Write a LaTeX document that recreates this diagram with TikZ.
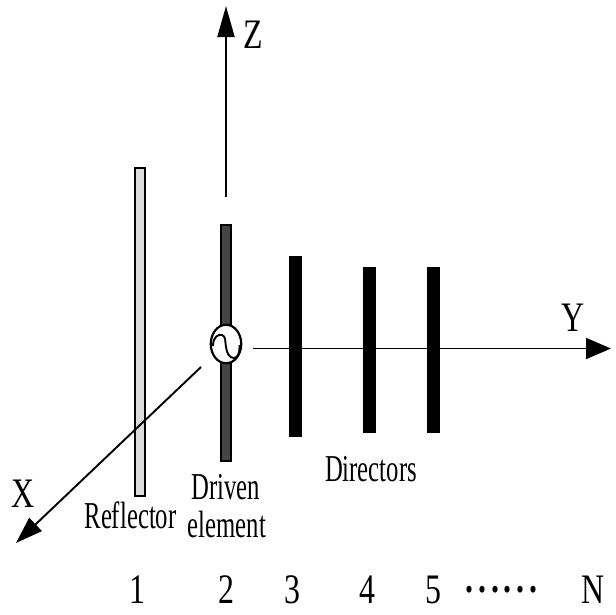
\documentclass[tikz,border=0pt]{standalone}
\usepackage{fontspec}
\setmainfont{Liberation Serif}
\newfontfamily\axisfont[FakeStretch=0.76]{Liberation Serif}
\newfontfamily\labelfont[FakeStretch=0.65]{Liberation Serif}
\usetikzlibrary{arrows.meta,shapes.geometric}
\tikzset{
  axisline/.style={line width=1.9pt,-{Triangle[length=#1]}},
  elementbar/.style={draw=#1,fill=#1,line width=1.5pt,inner sep=0pt,outer sep=0pt,minimum width=11.5pt},
  axislab/.style={font=\axisfont\fontsize{42}{42}\selectfont,inner sep=0pt,anchor=base},
  namelab/.style={font=\labelfont\fontsize{38}{38}\selectfont,inner sep=0pt,anchor=base},
}
\begin{document}
\begin{tikzpicture}[x=1pt,y=-1pt]
\useasboundingbox (0,0) rectangle (616,614);
% Y axis behind the bars
\coordinate (ystart) at (253,348.5);
\coordinate (ytip) at (611,348.5);
\coordinate (zstart) at (226,197);
\coordinate (ztip) at (226,6);
\coordinate (xstart) at (201,367);
\coordinate (xtip) at (16,543);
\draw[axisline={25pt,width=21pt}] (ystart) -- (ytip);
\draw[axisline={31pt,width=17pt}] (zstart) -- (ztip);
% elements
\node[draw=black,fill=black!14,line width=1.7pt,inner sep=0pt,outer sep=0pt,minimum width=10.5pt,minimum height=328.5pt] (reflector) at (140,332) {};
\node[draw=black,fill=black!73,line width=1.7pt,inner sep=0pt,outer sep=0pt,minimum width=10.5pt,minimum height=236.5pt] (driven) at (226,343) {};
\node[elementbar=black,minimum height=180pt] (dirthree) at (295.5,346.5) {};
\node[elementbar=black,minimum height=165pt] (dirfour) at (369.5,350) {};
\node[elementbar=black,minimum height=165pt] (dirfive) at (433.5,350) {};
\draw[axisline={27pt,width=18pt}] (xstart) -- (xtip);
% source
\node[draw=black,fill=white,ellipse,line width=2.2pt,inner sep=0pt,outer sep=0pt,minimum width=30.5pt,minimum height=38.5pt] (source) at (226,344) {};
\draw[line width=1.9pt] (213,346) .. controls (213,336) and (219,334) .. (222,335)
  .. controls (226,336) and (225,342) .. (226,347)
  .. controls (227,353) and (229,358) .. (234,358)
  .. controls (238,358) and (240,352) .. (239.5,345);
% labels
\node[axislab] (labz) at (253,48) {Z};
\node[axislab] (labx) at (23.5,507) {X};
\node[axislab] (laby) at (573,331) {Y};
\node[namelab] (labrefl) at (130.5,528) {Reflector};
\node[namelab] (labdriven) at (226,499) {Driven};
\node[namelab] (labelement) at (227,537) {element};
\node[namelab] (labdir) at (371,481) {Directors};
\node[axislab] (num1) at (137,603) {1};
\node[axislab] (num2) at (226,603) {2};
\node[axislab] (num3) at (292,603) {3};
\node[axislab] (num4) at (367,603) {4};
\node[axislab] (num5) at (433,603) {5};
\node[axislab] (numdots) at (501.5,592) {\bfseries .\kern5pt.\kern5pt.\kern5pt.\kern5pt.\kern5pt.};
\node[axislab] (numn) at (593.5,603) {N};
\end{tikzpicture}
\end{document}
